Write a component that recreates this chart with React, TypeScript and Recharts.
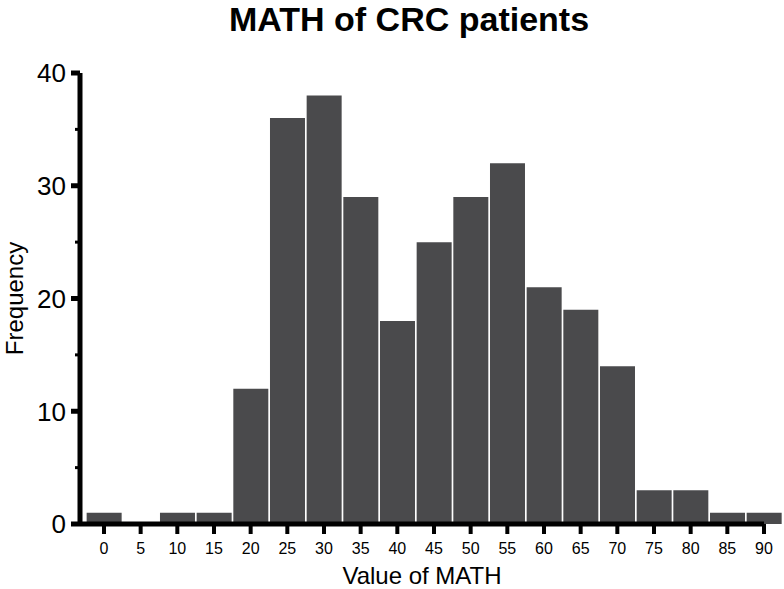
import React from 'react';
import { BarChart, Bar, XAxis, YAxis } from 'recharts';

const mathValues = [0, 5, 10, 15, 20, 25, 30, 35, 40, 45, 50, 55, 60, 65, 70, 75, 80, 85, 90];
const frequencies = [1, 0, 1, 1, 12, 36, 38, 29, 18, 25, 29, 32, 21, 19, 14, 3, 3, 1, 1];
const yTicks = [0, 5, 10, 15, 20, 25, 30, 35, 40];
const xTicks = mathValues;

const data = mathValues.map((m, i) => ({ math: m, freq: frequencies[i] }));

const FONT = '"Liberation Sans", Arial, Helvetica, sans-serif';

const YTick = (props: any) => {
  const { x, y, payload } = props;
  const v = payload.value;
  const major = v % 10 === 0;
  const axisX = x + 13;
  return (
    <g>
      <line
        x1={axisX}
        x2={axisX - (major ? 9 : 5)}
        y1={y}
        y2={y}
        stroke="#000"
        strokeWidth={major ? 5 : 3}
      />
      {major && (
        <text x={x - 1} y={y} dy="0.36em" textAnchor="end" fontSize={26} fill="#000" fontFamily={FONT}>
          {v}
        </text>
      )}
    </g>
  );
};

export default function App() {
  return (
    <div style={{ position: 'absolute', left: 0, top: 0, width: 784, height: 589, background: '#fff' }}>
      <div
        style={{
          position: 'absolute',
          left: 0,
          top: 0,
          width: 784,
          boxSizing: 'border-box',
          paddingLeft: 34,
          textAlign: 'center',
          fontFamily: FONT,
          fontWeight: 'bold',
          fontSize: 34,
          lineHeight: '38px',
          color: '#000',
        }}
      >
        MATH of CRC patients
      </div>
      <BarChart
        width={784}
        height={589}
        data={data}
        margin={{ top: 73, right: 20, bottom: 0, left: 0 }}
        style={{ fontFamily: FONT }}
      >
        <XAxis
          dataKey="math"
          type="number"
          domain={[-3.27, 90]}
          ticks={xTicks}
          interval={0}
          height={65}
          axisLine={{ stroke: '#000', strokeWidth: 5 }}
          tickLine={{ stroke: '#000', strokeWidth: 4 }}
          tickSize={10}
          tickMargin={9}
          tick={{ fill: '#000', fontSize: 16, fontFamily: FONT }}
          label={{ value: 'Value of MATH', position: 'insideBottom', offset: 5, fill: '#000', fontSize: 24, fontFamily: FONT }}
        />
        <YAxis
          type="number"
          domain={[0, 40]}
          ticks={yTicks}
          interval={0}
          width={80}
          axisLine={{ stroke: '#000', strokeWidth: 5 }}
          tickLine={false}
          tickSize={8}
          tickMargin={5}
          tick={<YTick />}
          label={{
            value: 'Frequency',
            angle: -90,
            position: 'insideLeft',
            offset: 14,
            fill: '#000',
            fontSize: 24,
            fontFamily: FONT,
            style: { textAnchor: 'middle' },
          }}
        />
        <Bar dataKey="freq" fill="#4a4a4c" barSize={35} isAnimationActive={false} />
      </BarChart>
    </div>
  );
}
